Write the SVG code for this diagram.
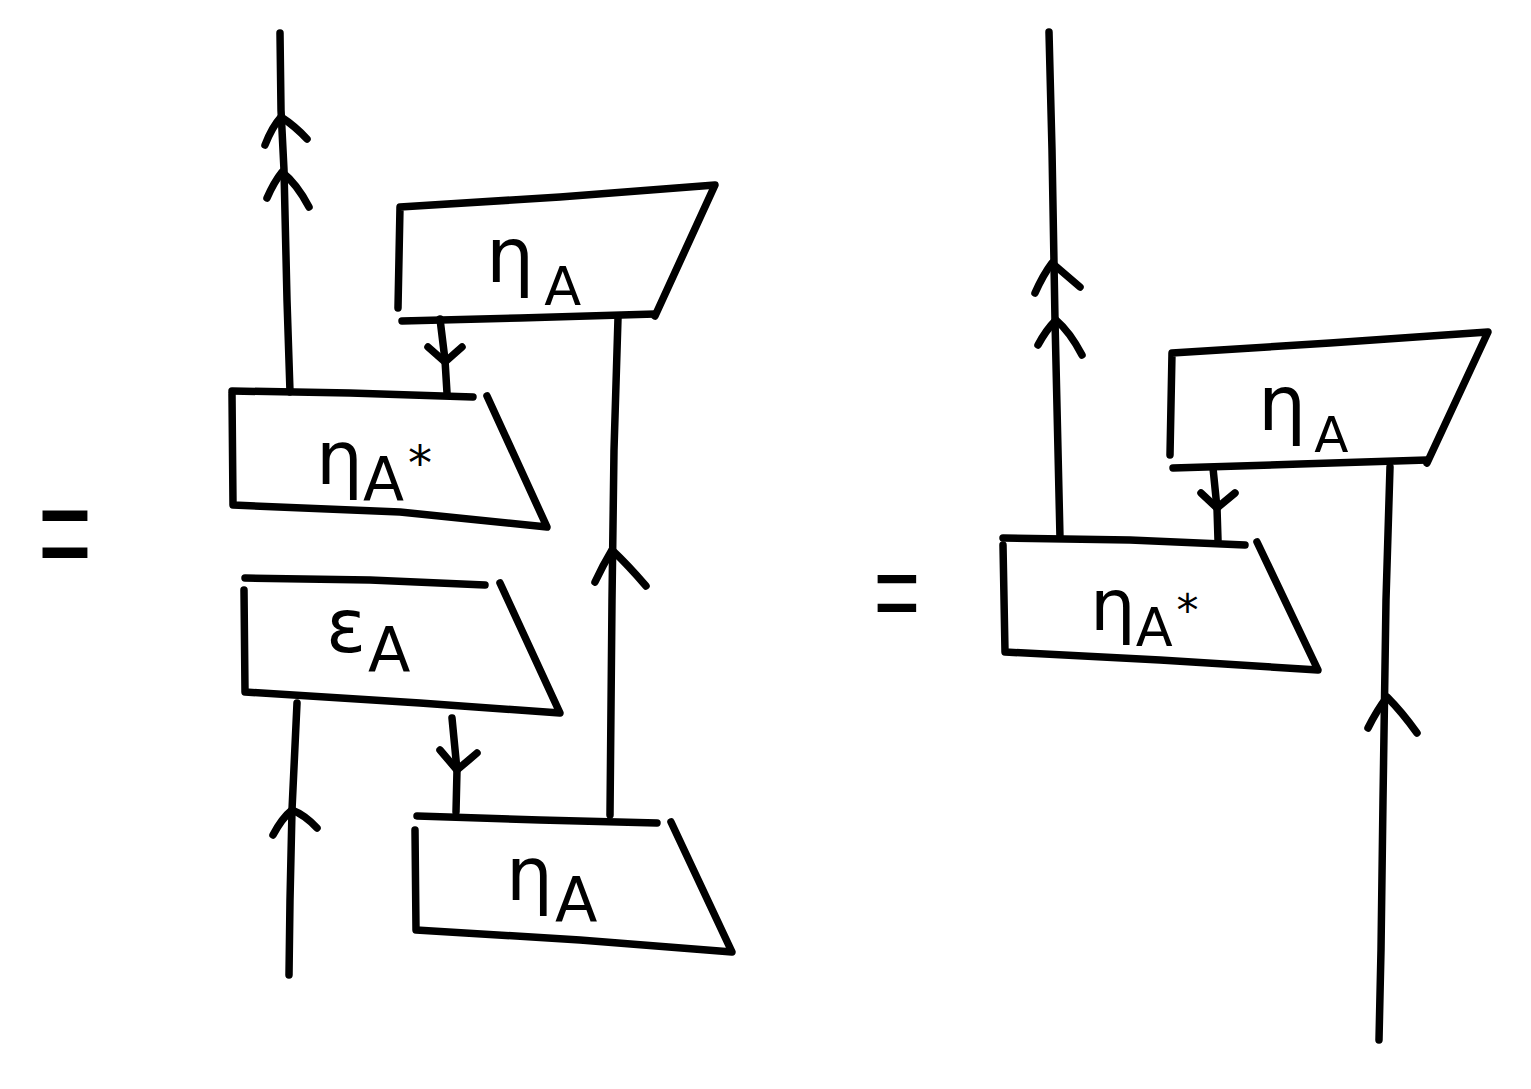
<svg xmlns="http://www.w3.org/2000/svg" width="1531" height="1089" viewBox="0 0 1531 1089">
<style>
.s{fill:none;stroke:#000;stroke-width:7.5;stroke-linecap:round;stroke-linejoin:round}
.t{font-family:"DejaVu Sans",sans-serif;fill:#000}
.eq{font-family:"Liberation Sans",sans-serif;fill:#000;text-anchor:middle}
</style>
<rect width="1531" height="1089" fill="#fff"/>
<g id="eq1"><text class="eq" font-size="140" transform="translate(65,583) scale(0.66,1.05)">=</text></g>
<g id="eq2"><text class="eq" font-size="115" transform="translate(897,631) scale(0.69,1)">=</text></g>
<g id="connectors">
<path class="s" d="M280,33 L281,110 L284,170 L287,300 L290,392"/>
<path class="s" d="M265,145 Q272,127 281,117 Q295,126 307,139"/>
<path class="s" d="M267,198 Q274,182 282,172 Q297,184 309,207"/>
<path class="s" d="M440,319 L445,360 L447,393"/>
<path class="s" d="M428,347 L445,362 L462,347"/>
<path class="s" d="M618,318 L614,450 L612,600 L610,815"/>
<path class="s" d="M595,582 Q603,565 612,550 Q628,565 646,586"/>
<path class="s" d="M297,703 L292,810 L290,900 L289,975"/>
<path class="s" d="M273,835 Q282,818 292,810 Q305,815 317,828"/>
<path class="s" d="M452,718 L457,770 L456,812"/>
<path class="s" d="M440,750 L457,770 L477,753"/>
<path class="s" d="M1049,32 L1052,150 L1055,320 L1060,538"/>
<path class="s" d="M1035,293 Q1043,275 1052,263 Q1066,275 1080,287"/>
<path class="s" d="M1038,345 Q1046,330 1056,320 Q1070,332 1082,355"/>
<path class="s" d="M1213,468 L1217,508 L1218,540"/>
<path class="s" d="M1201,493 L1217,508 L1235,493"/>
<path class="s" d="M1390,467 L1386,600 L1383,800 L1381,950 L1379,1040"/>
<path class="s" d="M1368,728 Q1377,710 1387,697 Q1402,712 1417,733"/>
</g>
<g id="etaA_top">
<path class="s" d="M398,308 L400,207 L560,197 L715,185 L655,316"/>
<path class="s" d="M402,321 L520,318 L655,314"/>
<text class="t" x="486" y="282" font-size="76">η<tspan dx="10" dy="23" font-size="54">A</tspan></text>
</g>
<g id="etaAstar_left">
<path class="s" d="M232,391 L350,393 L473,397"/>
<path class="s" d="M232,394 L233,505 L400,512 L547,527 L487,396"/>
<text class="t" x="316" y="484" font-size="74">η<tspan dy="16" font-size="60">A</tspan><tspan dx="4" dy="-20" font-size="48">*</tspan></text>
</g>
<g id="epsA">
<path class="s" d="M245,578 L370,580 L485,585"/>
<path class="s" d="M244,590 L245,692 L420,703 L560,713 L500,583"/>
<text class="t" x="326" y="652" font-size="74">ε<tspan dx="2" dy="20" font-size="62">A</tspan></text>
</g>
<g id="etaA_bottom">
<path class="s" d="M417,816 L540,820 L657,823"/>
<path class="s" d="M415,830 L416,930 L580,940 L732,952 L671,822"/>
<text class="t" x="506" y="900" font-size="74">η<tspan dx="2" dy="22" font-size="62">A</tspan></text>
</g>
<g id="etaA_right">
<path class="s" d="M1170,455 L1172,353 L1330,343 L1488,332 L1427,463"/>
<path class="s" d="M1173,468 L1300,464 L1427,460"/>
<text class="t" x="1258" y="430" font-size="76">η<tspan dx="8" dy="22" font-size="50">A</tspan></text>
</g>
<g id="etaAstar_right">
<path class="s" d="M1003,538 L1130,540 L1245,545"/>
<path class="s" d="M1003,545 L1005,652 L1160,660 L1318,670 L1257,542"/>
<text class="t" x="1090" y="630" font-size="72">η<tspan dy="16" font-size="54">A</tspan><tspan dx="4" dy="-20" font-size="44">*</tspan></text>
</g>
</svg>
